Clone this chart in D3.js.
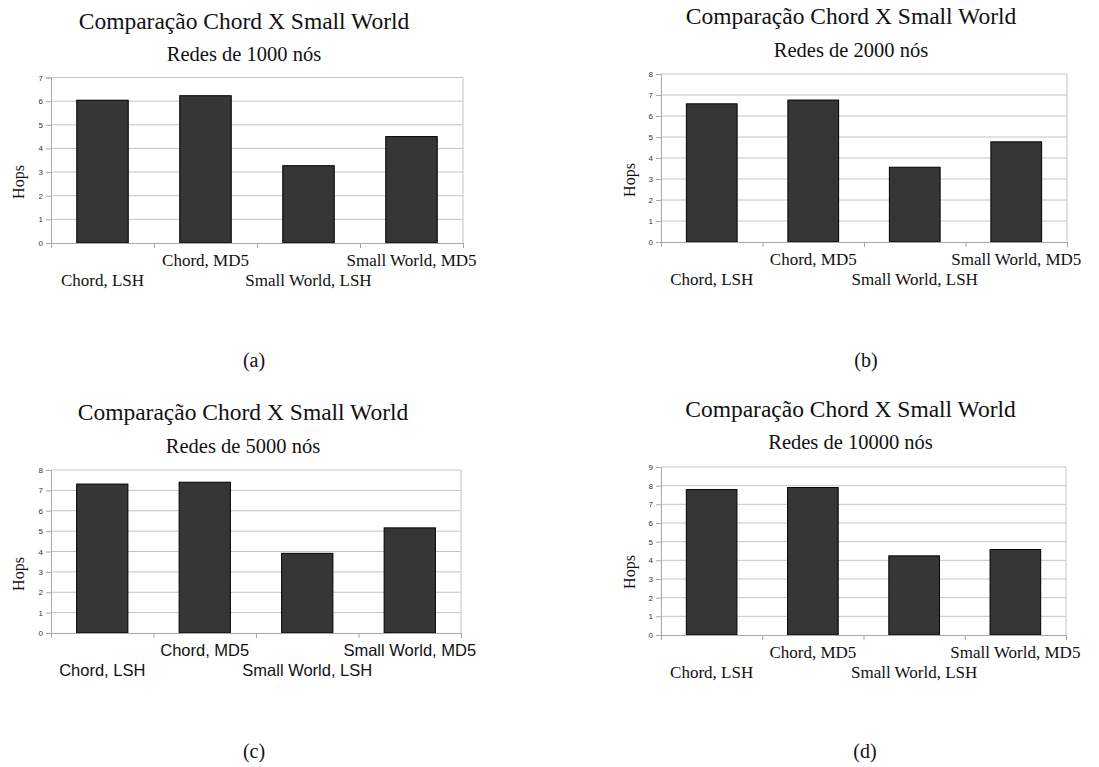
<!DOCTYPE html>
<html>
<head>
<meta charset="utf-8">
<script src="https://cdn.jsdelivr.net/npm/d3@7"></script>
<style>
  body { margin: 0; background: #fff; }
</style>
</head>
<body>
<div id="chart-container"></div>
<script>
// data
const categories = ["Chord, LSH", "Chord, MD5", "Small World, LSH", "Small World, MD5"];
const hops1000 = [6.04, 6.23, 3.27, 4.50];
const hops2000 = [6.58, 6.76, 3.56, 4.77];
const hops5000 = [7.31, 7.40, 3.91, 5.16];
const hops10000 = [7.79, 7.90, 4.24, 4.58];
const yTicks1000 = [0, 1, 2, 3, 4, 5, 6, 7];
const yTicks2000 = [0, 1, 2, 3, 4, 5, 6, 7, 8];
const yTicks5000 = [0, 1, 2, 3, 4, 5, 6, 7, 8];
const yTicks10000 = [0, 1, 2, 3, 4, 5, 6, 7, 8, 9];
const titleText = "Comparação Chord X Small World";
const subtitles = ["Redes de 1000 nós", "Redes de 2000 nós", "Redes de 5000 nós", "Redes de 10000 nós"];
const panelLetters = ["(a)", "(b)", "(c)", "(d)"];

const width = 1099;
const height = 767;
const serif = "'Liberation Serif', 'Times New Roman', serif";
const sans = "'Liberation Sans', Arial, sans-serif";

const svg = d3.select("#chart-container")
    .append("svg")
        .attr("width", width)
        .attr("height", height);

// layout of each panel (plot box + text positions)
const panels = [
    {values: hops1000, ticks: yTicks1000, sub: subtitles[0], letter: panelLetters[0],
     left: 51, right: 463, top: 77.5, bottom: 243, titleY: 29, subY: 61, hopsX: 18, hopsY: 182,
     labelFont: serif, letterX: 254, letterY: 367},
    {values: hops2000, ticks: yTicks2000, sub: subtitles[1], letter: panelLetters[1],
     left: 661, right: 1067, top: 74, bottom: 242, titleY: 24, subY: 57, hopsX: 629, hopsY: 180,
     labelFont: serif, letterX: 866, letterY: 367},
    {values: hops5000, ticks: yTicks5000, sub: subtitles[2], letter: panelLetters[2],
     left: 51, right: 461, top: 470, bottom: 633, titleY: 420, subY: 453, hopsX: 18, hopsY: 574,
     labelFont: sans, letterX: 254, letterY: 758},
    {values: hops10000, ticks: yTicks10000, sub: subtitles[3], letter: panelLetters[3],
     left: 661, right: 1066, top: 467, bottom: 635, titleY: 417, subY: 449, hopsX: 629, hopsY: 572,
     labelFont: serif, letterX: 865, letterY: 758}
];

panels.forEach(p => {
    const g = svg.append("g");
    const titleX = (p.left + p.right) / 2 - 13;

    const x = d3.scaleBand()
        .domain(categories)
        .range([p.left, p.right])
        .paddingInner(0.5)
        .paddingOuter(0.25);
    const xEdge = d3.scaleLinear()
        .domain([0, categories.length])
        .range([p.left, p.right]);
    const y = d3.scaleLinear()
        .domain([0, d3.max(p.ticks)])
        .range([p.bottom, p.top]);

    // gridlines
    g.append("g")
        .selectAll("line")
        .data(p.ticks.slice(1))
        .join("line")
            .attr("x1", p.left)
            .attr("x2", p.right)
            .attr("y1", d => y(d))
            .attr("y2", d => y(d))
            .attr("stroke", "#c4c4c4")
            .attr("stroke-width", 1);

    // right border
    g.append("line")
        .attr("x1", p.right).attr("x2", p.right)
        .attr("y1", p.top).attr("y2", p.bottom)
        .attr("stroke", "#c4c4c4");

    // bars
    g.append("g")
        .selectAll("rect")
        .data(p.values)
        .join("rect")
            .attr("x", (d, i) => x(categories[i]))
            .attr("y", d => y(d))
            .attr("width", x.bandwidth())
            .attr("height", d => p.bottom - y(d))
            .attr("fill", "#363636")
            .attr("stroke", "#000")
            .attr("stroke-width", 1);

    // y axis
    const yAxis = g.append("g")
        .attr("transform", `translate(${p.left},0)`)
        .call(d3.axisLeft(y).tickValues(p.ticks).tickSize(5).tickPadding(3).tickFormat(d3.format("d")));
    yAxis.select(".domain").attr("stroke", "#a8a8a8");
    yAxis.selectAll(".tick line").attr("stroke", "#a8a8a8");
    yAxis.selectAll("text")
        .style("font-size", "8px")
        .style("font-family", sans)
        .attr("fill", "#333");

    // x axis with category boundary ticks
    const xAxis = g.append("g")
        .attr("transform", `translate(0,${p.bottom})`)
        .call(d3.axisBottom(xEdge).tickValues(d3.range(categories.length + 1)).tickSize(5).tickFormat(""));
    xAxis.select(".domain").attr("stroke", "#a8a8a8");
    xAxis.selectAll(".tick line").attr("stroke", "#a8a8a8");

    // staggered category labels
    g.append("g")
        .selectAll("text")
        .data(categories)
        .join("text")
            .attr("x", d => x(d) + x.bandwidth() / 2)
            .attr("y", (d, i) => p.bottom + (i % 2 === 0 ? 43 : 23))
            .attr("text-anchor", "middle")
            .style("font-family", p.labelFont)
            .style("font-size", p.labelFont === sans ? "16.5px" : "17px")
            .attr("fill", "#111")
            .text(d => d);

    // y axis label
    g.append("text")
        .attr("transform", `translate(${p.hopsX},${p.hopsY}) rotate(-90)`)
        .attr("dy", "0.35em")
        .attr("text-anchor", "middle")
        .style("font-family", serif)
        .style("font-size", "16px")
        .attr("fill", "#111")
        .text("Hops");

    // titles
    g.append("text")
        .attr("x", titleX)
        .attr("y", p.titleY)
        .attr("text-anchor", "middle")
        .style("font-family", serif)
        .style("font-size", "23.5px")
        .attr("fill", "#111")
        .text(titleText);
    g.append("text")
        .attr("x", titleX)
        .attr("y", p.subY)
        .attr("text-anchor", "middle")
        .style("font-family", serif)
        .style("font-size", "20.5px")
        .attr("fill", "#111")
        .text(p.sub);

    // panel letter
    g.append("text")
        .attr("x", p.letterX)
        .attr("y", p.letterY)
        .attr("text-anchor", "middle")
        .style("font-family", serif)
        .style("font-size", "20px")
        .attr("fill", "#111")
        .text(p.letter);
});
</script>
</body>
</html>
